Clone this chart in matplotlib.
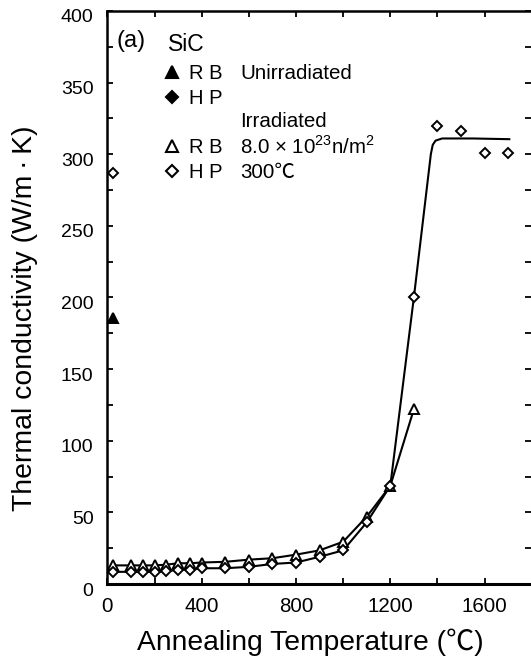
import matplotlib
matplotlib.use("Agg")
import matplotlib.pyplot as plt
import matplotlib.transforms as mtransforms
from matplotlib.lines import Line2D
from matplotlib.ticker import MultipleLocator

plt.rcParams['font.family'] = ['Liberation Sans', 'Noto Sans CJK JP', 'DejaVu Sans']
plt.rcParams['mathtext.fontset'] = 'custom'
plt.rcParams['mathtext.rm'] = 'Liberation Sans'

# unirradiated SiC, measured at room temperature
unirr_temp = [25]
unirr_rb_k = [185.5]
unirr_hp_k = [287]

# irradiated (8.0e23 n/m2, 300C), thermal conductivity after annealing
anneal_temp_rb = [25, 100, 150, 200, 250, 300, 350, 400, 500, 600, 700, 800, 900,
                  1000, 1100, 1200, 1300]
irr_rb_k = [13, 13, 13, 13, 13.5, 14.5, 14.5, 15, 15.5, 17, 18, 20.5, 23.5,
            29.5, 47, 68.5, 122]

anneal_temp_hp = [25, 100, 150, 200, 250, 300, 350, 400, 500, 600, 700, 800, 900,
                  1000, 1100, 1200, 1300, 1400, 1500, 1600, 1700]
irr_hp_k = [8.5, 8.5, 8.5, 8.5, 9, 10, 10, 11, 11, 12, 14, 15, 19,
            23.5, 43, 68.5, 200, 320, 316, 301, 301]

# guide curve for HP: follows the points up to 1300C, then levels off
plateau_temp = [1372, 1380, 1392, 1420, 1550, 1705]
plateau_k = [300, 306.5, 309.5, 311, 311, 310.5]
hp_curve_temp = anneal_temp_hp[:17] + plateau_temp
hp_curve_k = irr_hp_k[:17] + plateau_k

fig = plt.figure(figsize=(5.31, 6.57), dpi=100)
ax = fig.add_axes([0.2024, 0.1111, 0.7976, 0.8722])

# curves
ax.plot(anneal_temp_rb, irr_rb_k, color='black', lw=1.5, zorder=2)
ax.plot(hp_curve_temp, hp_curve_k, color='black', lw=1.5, zorder=2)

# markers
ax.plot(anneal_temp_rb, irr_rb_k, ls='none', marker='^', ms=7.5, mfc='white',
        mec='black', mew=1.4, zorder=3)
ax.plot(anneal_temp_hp, irr_hp_k, ls='none', marker='D', ms=5.5, mfc='white',
        mec='black', mew=1.4, zorder=4)
ax.plot(unirr_temp, unirr_rb_k, ls='none', marker='^', ms=7.5, mfc='black',
        mec='black', mew=1.4, zorder=3, clip_on=False)
ax.plot(unirr_temp, unirr_hp_k, ls='none', marker='D', ms=5.5, mfc='white',
        mec='black', mew=1.4, zorder=3, clip_on=False)

ax.set_xlim(0, 1797)
ax.set_ylim(0, 400)
ax.xaxis.set_major_locator(MultipleLocator(400))
ax.xaxis.set_minor_locator(MultipleLocator(200))
ax.yaxis.set_major_locator(MultipleLocator(50))
ax.yaxis.set_minor_locator(MultipleLocator(25))
ax.tick_params(which='both', direction='in', top=True, right=True, length=4,
               width=1.3)
ax.tick_params(axis='y', pad=10, labelsize=14)
ax.tick_params(axis='x', pad=9, labelsize=14.8)

ax.spines['right'].set_visible(False)
for side in ['left', 'top']:
    ax.spines[side].set_linewidth(1.8)
ax.spines['bottom'].set_linewidth(2.2)

ax.set_xlabel('Annealing Temperature (℃)', fontsize=20.3)
ax.xaxis.set_label_coords(0.478, -0.1152)
ax.xaxis.label.set_va('baseline')
ax.set_ylabel('Thermal conductivity (W/m\u2009·\u2009K)', fontsize=20.4)
ax.yaxis.set_label_coords(-0.1783, 0.4634)
ax.yaxis.label.set_va('baseline')

# legend block
handles = [
    Line2D([], [], ls='none', marker='^', ms=9, mfc='black', mec='black', mew=1.5),
    Line2D([], [], ls='none', marker='D', ms=6.3, mfc='black', mec='black', mew=1.5),
    Line2D([], [], ls='none'),
    Line2D([], [], ls='none', marker='^', ms=9, mfc='white', mec='black', mew=1.5),
    Line2D([], [], ls='none', marker='D', ms=6.3, mfc='white', mec='black', mew=1.5),
]
labels = ['R B', 'H P', '', 'R B', 'H P']
ax.legend(handles, labels, loc='upper left', bbox_to_anchor=(0.1277, 0.9075),
          frameon=False, borderpad=0, borderaxespad=0, handlelength=1.0,
          handletextpad=0.35, labelspacing=0.285, fontsize=14.5)

ax.text(0.022, 0.9377, '(a)', transform=ax.transAxes, fontsize=17, va='baseline')
ax.text(0.143, 0.9302, 'SiC', transform=ax.transAxes, fontsize=16.5, va='baseline')
ax.text(0.3129, 0.8813, 'Unirradiated', transform=ax.transAxes, fontsize=14.8,
        va='baseline')
ax.text(0.3129, 0.798, 'Irradiated', transform=ax.transAxes, fontsize=14.8,
        va='baseline')
ax.text(0.3129, 0.7513, r'8.0 × 10$^{\mathregular{23}}$n/m$^{\mathregular{2}}$',
        transform=ax.transAxes, fontsize=14.8, va='baseline')
ax.text(0.3129, 0.7086, '300℃', transform=ax.transAxes, fontsize=14.8,
        va='baseline')

# y tick labels sit a little below their ticks in the original
fig.canvas.draw()
offset = mtransforms.ScaledTranslation(0, -5 / 100, fig.dpi_scale_trans)
for tick in ax.yaxis.get_major_ticks():
    tick.label1.set_transform(tick.label1.get_transform() + offset)

fig.savefig('out.png', dpi=100)
